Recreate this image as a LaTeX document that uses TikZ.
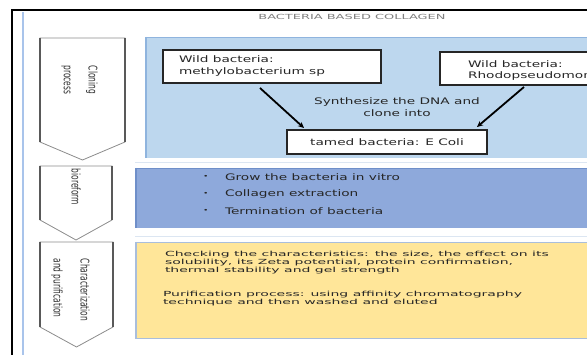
\documentclass[tikz,border=0pt]{standalone}
\usepackage{fontspec}
\setmainfont{DejaVu Sans}
\usepackage{graphicx}
\usetikzlibrary{arrows.meta}
\newcommand\tx[1]{\scalebox{1.52}[1]{#1}}
\newcommand\ty[1]{\scalebox{2.0}[1]{#1}}
\newcommand\tv[1]{\scalebox{1}[1.6]{#1}}
\definecolor{boxA}{HTML}{BDD7EE}
\definecolor{boxAedge}{HTML}{8FB4DE}
\definecolor{boxB}{HTML}{8EA9DB}
\definecolor{boxBedge}{HTML}{6F8FC9}
\definecolor{boxC}{HTML}{FFE699}
\definecolor{boxCedge}{HTML}{A9BEDC}
\definecolor{sepline}{HTML}{DCE6F2}
\definecolor{frameblue}{HTML}{A9C4EB}
\begin{document}
\begin{tikzpicture}[x=1pt,y=-1pt,
  every node/.style={inner sep=0pt, outer sep=0pt},
  wbox/.style={draw=black!85, line width=1.1pt, fill=white, anchor=north west},
  lbl/.style={anchor=west, text=black!85, font=\fontsize{9}{11}\selectfont},
  ylbl/.style={anchor=west, text=black!85, font=\fontsize{7}{8}\selectfont},
  vlbl/.style={rotate=-90, text=black!80, font=\fontsize{7.5}{8}\selectfont},
  arr/.style={-{Stealth[length=6pt,width=5.5pt]}, line width=1.8pt, black},
  chev/.style={fill=white, draw=black!45, line width=0.8pt},
  chevside/.style={draw=black!65, line width=1.8pt},
]
\clip (0,0) rectangle (587,355);
\fill[white] (0,0) rectangle (587,355);

% frame
\draw[line width=1.3pt] (11,10) -- (587,10);
\draw[line width=2.5pt] (12,9.4) -- (12,355);
\draw[frameblue, line width=1.2pt] (23,12) -- (23,355);

% title
\node[text=black!50, font=\fontsize{7}{8}\selectfont] (title) at (352,17) {\scalebox{1.85}[1]{BACTERIA BASED COLLAGEN}};

% panels
\fill[boxA] (145,37) rectangle (600,158);
\draw[boxAedge, line width=0.6pt] (145,37) -- (600,37);
\draw[boxAedge, line width=2.2pt] (146,37) -- (146,158);
\draw[sepline, line width=1pt] (135,163) -- (600,163);
\fill[boxB] (135,168) rectangle (600,228);
\draw[boxBedge, line width=0.6pt] (135,168) -- (600,168);
\draw[boxBedge, line width=2pt] (136,168) -- (136,228);
\draw[sepline, line width=1pt] (135,237) -- (600,237);
\fill[boxC] (135,242) rectangle (600,338);
\draw[boxCedge, line width=0.8pt] (135,242) -- (600,242);
\draw[boxCedge, line width=2pt] (136,242) -- (136,338);
\draw[boxCedge, line width=0.8pt] (135,338) -- (600,338);

% chevrons
\draw[chev] (40,38) -- (125,38) -- (125,142) -- (82.5,160) -- (40,142) -- cycle;
\draw[chevside] (40,38) -- (40,142) (125,38) -- (125,142);
\draw[chev] (40,166) -- (112,166) -- (112,220) -- (76,240) -- (40,220) -- cycle;
\draw[chevside] (40,166) -- (40,220) (112,166) -- (112,220);
\draw[chev] (40,242) -- (113,242) -- (113,327) -- (76.5,347) -- (40,327) -- cycle;
\draw[chevside] (40,242) -- (40,327) (113,242) -- (113,327);

% chevron labels
\node[vlbl] (cl1) at (92,80) {\tv{Cloning}};
\node[vlbl] (cl2) at (66,80) {\tv{process}};
\node[vlbl] (bio) at (76,187) {\tv{bioreform}};
\node[vlbl] (ch1) at (85,290) {\tv{Characterization}};
\node[vlbl] (ch2) at (57,288) {\tv{and purification}};

% cloning panel
\node[wbox, minimum width=218pt, minimum height=33pt] (wild1) at (163,50) {};
\node[wbox, minimum width=200pt, minimum height=33pt] (wild2) at (440,52) {};
\node[wbox, minimum width=200pt, minimum height=24pt] (tamed) at (287,130) {};
\node[lbl] (w1a) at (179,59) {\tx{Wild bacteria:}};
\node[lbl] (w1b) at (179,72) {\tx{methylobacterium sp}};
\node[lbl] (w2a) at (468,64) {\tx{Wild bacteria:}};
\node[lbl] (w2b) at (468,76) {\tx{Rhodopseudomonas}};
\node[lbl, anchor=center] (syn1) at (397,102) {\tx{Synthesize the DNA and}};
\node[lbl, anchor=center] (syn2) at (397,113) {\tx{clone into}};
\node[lbl, anchor=center] (tm) at (tamed.center) {\tx{tamed bacteria: E Coli}};
\draw[arr] ([xshift=-12pt,yshift=-5pt]wild1.south) -- ([xshift=17pt,yshift=2pt]tamed.north west);
\draw[arr] ([xshift=-16pt,yshift=-2pt]wild2.south) -- ([xshift=-10pt,yshift=3pt]tamed.north east);

% bioreform panel
\node[lbl, font=\fontsize{6}{7}\selectfont] (b1) at (203,177) {\tx{•}};
\node[lbl, font=\fontsize{6}{7}\selectfont] (b2) at (203,194) {\tx{•}};
\node[lbl, font=\fontsize{6}{7}\selectfont] (b3) at (203,211) {\tx{•}};
\node[lbl] (g1) at (225,177) {\tx{Grow the bacteria in vitro}};
\node[lbl] (g2) at (225,194) {\tx{Collagen extraction}};
\node[lbl] (g3) at (225,211) {\tx{Termination of bacteria}};

% characterization panel
\node[ylbl] (y1) at (165,254.5) {\ty{Checking the characteristics: the size, the effect on its}};
\node[ylbl] (y2) at (165,262.5) {\ty{solubility, its Zeta potential, protein confirmation,}};
\node[ylbl] (y3) at (165,270.5) {\ty{thermal stability and gel strength}};
\node[ylbl] (y4) at (163,295) {\ty{Purification process: using affinity chromatography}};
\node[ylbl] (y5) at (163,303) {\ty{technique and then washed and eluted}};
\end{tikzpicture}
\end{document}
